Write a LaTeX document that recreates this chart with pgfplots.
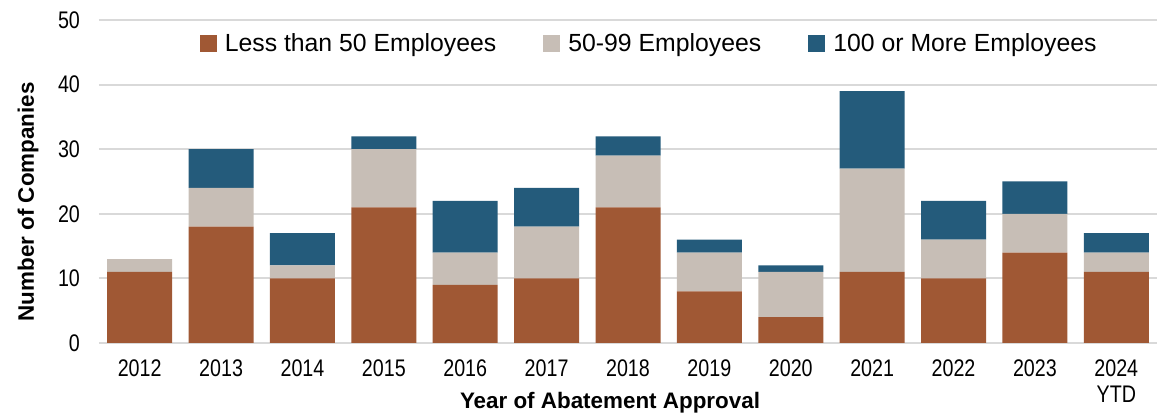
\documentclass[border=0pt]{standalone}
\usepackage{pgfplots}
\pgfplotsset{compat=1.18}
\usepackage{fontspec}
\usepackage{graphicx}
\setmainfont{Liberation Sans}
\definecolor{cBrown}{RGB}{160,88,52}
\definecolor{cGray}{RGB}{199,190,182}
\definecolor{cBlue}{RGB}{36,91,123}
\definecolor{cGrid}{RGB}{217,217,217}
\newcommand\nar[1]{\scalebox{0.82}[1]{#1}}
\begin{document}
\begin{tikzpicture}
\useasboundingbox (-49.5pt,-37.5pt) rectangle (532pt,171.5pt);
\begin{axis}[
  at={(0,0)}, anchor=south west,
  scale only axis, width=529pt, height=161.5pt,
  ybar stacked, bar width=32.5pt,
  xmin=-0.5, xmax=12.5, ymin=0, ymax=50,
  xtick={0,...,12},
  xticklabels={\nar{2012},\nar{2013},\nar{2014},\nar{2015},\nar{2016},\nar{2017},\nar{2018},\nar{2019},\nar{2020},\nar{2021},\nar{2022},\nar{2023},{\nar{2024}\\\nar{YTD}}},
  ytick={0,10,20,30,40,50},
  yticklabels={\nar{0},\nar{10},\nar{20},\nar{30},\nar{40},\nar{50}},
  x tick label style={font=\fontsize{12}{13}\selectfont, align=center, anchor=north, yshift=-5pt},
  y tick label style={font=\fontsize{12}{13}\selectfont, xshift=-6pt},
  major tick length=0pt,
  axis line style={draw=none},
  ymajorgrids, major grid style={cGrid, line width=1pt},
  xlabel={Year of Abatement Approval},
  ylabel={Number of Companies},
  label style={font=\bfseries\fontsize{11.2}{12}\selectfont},
  xlabel style={at={(axis description cs:0.483,0)}, anchor=center, yshift=-30pt},
  ylabel style={at={(axis description cs:-0.0671,0.437)}, anchor=center},
  legend style={draw=none, fill=none, at={(0.521,0.926)}, anchor=center,
    legend columns=3, font=\fontsize{12.4}{13}\selectfont,
    /tikz/every odd column/.append style={column sep=2pt},
    /tikz/every even column/.append style={column sep=21.5pt}},
  legend cell align=left,
  sqleg/.style={legend image code/.code={\fill[##1] (0pt,-4.25pt) rectangle (8.5pt,4.25pt);}},
]
\addplot[fill=cBrown, draw=none, sqleg] coordinates {(0,11) (1,18) (2,10) (3,21) (4,9) (5,10) (6,21) (7,8) (8,4) (9,11) (10,10) (11,14) (12,11)};
\addplot[fill=cGray, draw=none, sqleg] coordinates {(0,2) (1,6) (2,2) (3,9) (4,5) (5,8) (6,8) (7,6) (8,7) (9,16) (10,6) (11,6) (12,3)};
\addplot[fill=cBlue, draw=none, sqleg] coordinates {(0,0) (1,6) (2,5) (3,2) (4,8) (5,6) (6,3) (7,2) (8,1) (9,12) (10,6) (11,5) (12,3)};
\addlegendentry{Less than 50 Employees}
\addlegendentry{50-99 Employees}
\addlegendentry{100 or More Employees}
\end{axis}
\end{tikzpicture}
\end{document}
